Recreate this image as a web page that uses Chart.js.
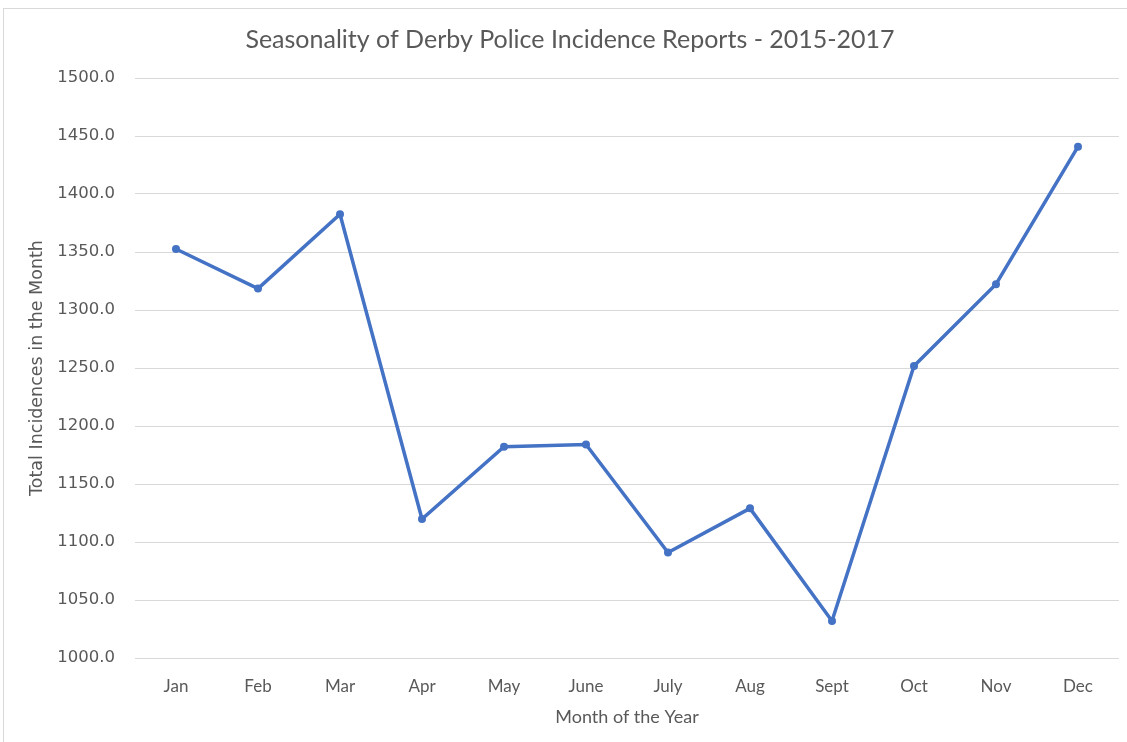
<!DOCTYPE html>
<html>
<head>
<meta charset="utf-8">
<script src="https://cdn.jsdelivr.net/npm/chart.js@4.4.0/dist/chart.umd.min.js"></script>
<style>
  body { margin: 0; background: #fff; }
  .frame { position: absolute; left: 3px; top: 8px; width: 1200px; height: 800px; border: 1px solid #d9d9d9; }
  #chart { position: absolute; left: 0; top: 0; }
</style>
</head>
<body>
<div class="frame"></div>
<canvas id="chart" width="1127" height="742"></canvas>
<script>
const months = ["Jan", "Feb", "Mar", "Apr", "May", "June", "July", "Aug", "Sept", "Oct", "Nov", "Dec"];
const incidences = [1352.6, 1318.5, 1382.6, 1119.8, 1182.2, 1184.0, 1090.9, 1129.0, 1031.9, 1251.8, 1322.2, 1440.8];
const yMin = 1000;
const yMax = 1500;
const yStep = 50;

const chartTitle = "Seasonality of Derby Police Incidence Reports - 2015-2017";
const xTitle = "Month of the Year";
const yTitle = "Total Incidences in the Month";

const grey = "#595959";
const blue = "#4472C4";

new Chart(document.getElementById("chart"), {
  type: "line",
  data: {
    labels: months,
    datasets: [{
      data: incidences,
      borderColor: blue,
      backgroundColor: blue,
      borderWidth: 3.5,
      pointRadius: 4,
      pointBackgroundColor: blue,
      pointBorderWidth: 0,
      tension: 0
    }]
  },
  options: {
    responsive: false,
    animation: false,
    layout: { padding: { left: 21, right: 8, top: 6, bottom: 0 } },
    plugins: {
      legend: { display: false },
      tooltip: { enabled: false },
      title: {
        display: true,
        text: chartTitle,
        color: grey,
        font: { family: "Lato", size: 25, weight: "normal" },
        padding: { top: 19, bottom: 23 }
      }
    },
    scales: {
      x: {
        offset: true,
        grid: { display: false, drawTicks: false },
        border: { display: false },
        ticks: {
          color: grey,
          padding: 18,
          font: { family: "Lato", size: 17 }
        },
        title: {
          display: true,
          text: xTitle,
          color: grey,
          font: { family: "Lato", size: 18 },
          padding: { top: 0, bottom: 14 }
        },
        afterFit: (scale) => { scale.height = 84; }
      },
      y: {
        min: yMin,
        max: yMax,
        grid: { color: "#d9d9d9", lineWidth: 1, drawTicks: false },
        border: { display: false },
        ticks: {
          stepSize: yStep,
          color: grey,
          padding: 20,
          font: { family: "DejaVu Sans", size: 16.5 },
          callback: (v) => v.toFixed(1)
        },
        title: {
          display: true,
          text: yTitle,
          color: grey,
          font: { family: "DejaVu Sans", size: 17.5 },
          padding: { top: 6, bottom: 0 }
        },
        afterFit: (scale) => { scale.width = 114; }
      }
    }
  }
});
</script>
</body>
</html>
